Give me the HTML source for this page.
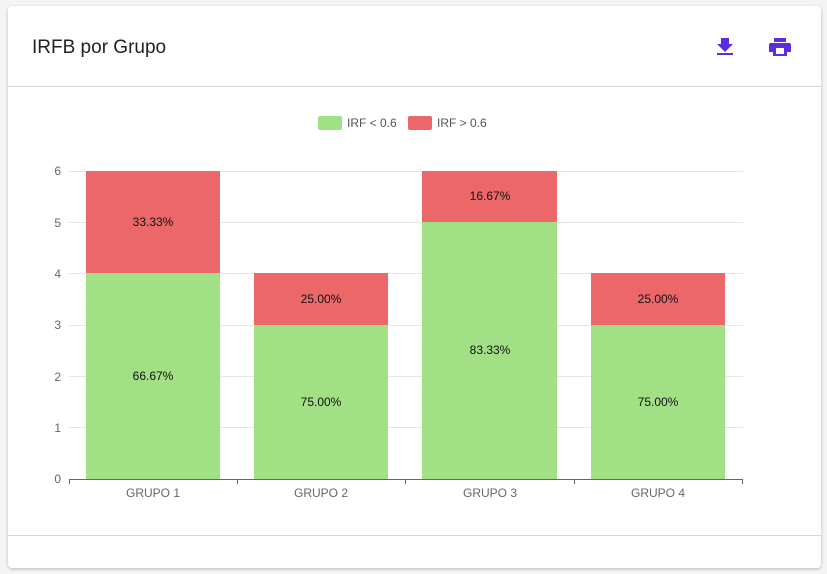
<!DOCTYPE html>
<html><head><meta charset="utf-8"><style>
body{margin:0;width:827px;height:574px;background:#f4f4f4;font-family:"Liberation Sans",sans-serif;overflow:hidden}
.card{position:absolute;left:8px;top:6px;width:813px;height:562px;background:#fff;border-radius:4px;box-shadow:0 1px 3px rgba(0,0,0,.25)}
</style></head><body>
<div class="card"></div>
<svg width="827" height="574" style="position:absolute;left:0;top:0" font-family="Liberation Sans, sans-serif">
<text x="32" y="53" font-size="19" fill="#222">IRFB por Grupo</text>
<g fill="#5b2de0">
<path d="M721 38h8v6h4l-8 8-8-8h4z"/><rect x="717" y="53" width="16" height="2"/>
<path d="M774 38h12v4h-12z"/><path d="M771 43h18a2 2 0 0 1 2 2v7h-4v4h-14v-4h-4v-7a2 2 0 0 1 2-2z"/>
</g>
<rect x="776" y="48" width="8" height="6" fill="#fff"/>
<line x1="8" y1="86.5" x2="821" y2="86.5" stroke="#d6d6d6"/>
<line x1="8" y1="535.5" x2="821" y2="535.5" stroke="#d6d6d6"/>
<rect x="318" y="116" width="24" height="14" rx="2" fill="#a2e085"/>
<text x="347" y="127" font-size="12" fill="#555">IRF &lt; 0.6</text>
<rect x="408" y="116" width="24" height="14" rx="2" fill="#ec676a"/>
<text x="437" y="127" font-size="12" fill="#555">IRF &gt; 0.6</text>
<g stroke="#e6e6e6">
<line x1="69" y1="171.5" x2="743" y2="171.5"/><line x1="69" y1="222.5" x2="743" y2="222.5"/>
<line x1="69" y1="273.5" x2="743" y2="273.5"/><line x1="69" y1="325.5" x2="743" y2="325.5"/>
<line x1="69" y1="376.5" x2="743" y2="376.5"/><line x1="69" y1="427.5" x2="743" y2="427.5"/>
</g>
<g font-size="12" fill="#666" text-anchor="end">
<text x="61" y="483">0</text><text x="61" y="432">1</text><text x="61" y="381">2</text>
<text x="61" y="329">3</text><text x="61" y="278">4</text><text x="61" y="227">5</text><text x="61" y="175">6</text>
</g>
<g>
<rect x="86" y="273" width="134" height="206" fill="#a2e085"/><rect x="86" y="171" width="134" height="102" fill="#ec676a"/>
<rect x="254" y="325" width="134" height="154" fill="#a2e085"/><rect x="254" y="273" width="134" height="52" fill="#ec676a"/>
<rect x="422" y="222" width="135" height="257" fill="#a2e085"/><rect x="422" y="171" width="135" height="51" fill="#ec676a"/>
<rect x="591" y="325" width="134" height="154" fill="#a2e085"/><rect x="591" y="273" width="134" height="52" fill="#ec676a"/>
</g>
<g font-size="12" fill="#111" text-anchor="middle">
<text x="153" y="380">66.67%</text><text x="153" y="226">33.33%</text>
<text x="321" y="406">75.00%</text><text x="321" y="303">25.00%</text>
<text x="490" y="354">83.33%</text><text x="490" y="200">16.67%</text>
<text x="658" y="406">75.00%</text><text x="658" y="303">25.00%</text>
</g>
<g stroke="#666">
<line x1="69" y1="479.5" x2="743" y2="479.5"/>
<line x1="69.5" y1="479" x2="69.5" y2="484"/><line x1="237.5" y1="479" x2="237.5" y2="484"/>
<line x1="405.5" y1="479" x2="405.5" y2="484"/><line x1="574.5" y1="479" x2="574.5" y2="484"/><line x1="742.5" y1="479" x2="742.5" y2="484"/>
</g>
<g font-size="12" fill="#666" text-anchor="middle">
<text x="153" y="497">GRUPO 1</text><text x="321" y="497">GRUPO 2</text><text x="490" y="497">GRUPO 3</text><text x="658" y="497">GRUPO 4</text>
</g>
</svg>
</body></html>
